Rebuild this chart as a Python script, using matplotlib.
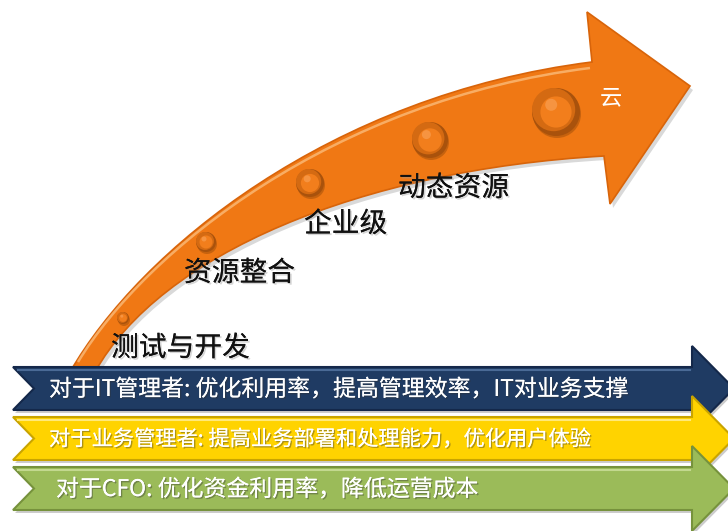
import matplotlib
matplotlib.use("Agg")
import matplotlib.pyplot as plt
from matplotlib.path import Path
from matplotlib.patches import PathPatch, Polygon, Circle
import matplotlib.patheffects as pe

plt.rcParams['font.family'] = ['Noto Sans CJK SC', 'DejaVu Sans']

# stages along the orange arrow
stage_labels = ["测试与开发", "资源整合", "企业级", "动态资源", "云"]
# benefit bands
band_texts = ["对于IT管理者: 优化利用率，提高管理效率，IT对业务支撑",
              "对于业务管理者: 提高业务部署和处理能力，优化用户体验",
              "对于CFO: 优化资金利用率，降低运营成本"]

# layout (pixel coords, y down)
label_pos = [(111, 348), (184, 273), (304, 224), (398, 188), (600, 98)]
bead_pos = [(123, 318, 6), (206, 242, 10), (310, 183, 14), (430, 140, 18), (556, 112, 24)]
band_tops = [367, 417, 467]
band_text_x = [49, 49, 56]
band_font = [16.5, 15.3, 16.5]
band_colors = ["#1F3B63", "#FFD300", "#9BBB59"]
band_edges = ["#14284A", "#C9A400", "#76923C"]
band_hi = ["#4A6A96", "#FFE97A", "#C3D88F"]
orange = "#F07814"

fig = plt.figure(figsize=(7.28, 5.31), dpi=100)
ax = fig.add_axes([0, 0, 1, 1])
ax.set_xlim(0, 728)
ax.set_ylim(531, 0)
ax.axis('off')

# curved orange arrow
verts = [(70, 372), (140, 250), (330, 95), (592, 62),
         (587, 12), (690, 86), (610, 204), (604, 156),
         (360, 170), (160, 255), (95, 372), (70, 372)]
codes = [Path.MOVETO, Path.CURVE4, Path.CURVE4, Path.CURVE4,
         Path.LINETO, Path.LINETO, Path.LINETO, Path.LINETO,
         Path.CURVE4, Path.CURVE4, Path.CURVE4, Path.CLOSEPOLY]
shadow = [(x + 3, y + 4) for x, y in verts]
ax.add_patch(PathPatch(Path(shadow, codes), fc="#000000", ec="none", alpha=0.15))
ax.add_patch(PathPatch(Path(verts, codes), fc=orange, ec="#D8640A", lw=1.2))
# light stripe near upper edge
hi = Path([(78, 362), (146, 250), (334, 100), (590, 68)],
          [Path.MOVETO, Path.CURVE4, Path.CURVE4, Path.CURVE4])
ax.add_patch(PathPatch(hi, fc="none", ec="#F9B36E", lw=1.8, alpha=0.9))

# beads
for x, y, r in bead_pos:
    ax.add_patch(Circle((x + 1, y + 2), r, fc="#7A3A05", ec="none", alpha=0.35))
    ax.add_patch(Circle((x, y), r, fc="#A9520C", ec="none"))
    ax.add_patch(Circle((x - 0.1 * r, y - 0.1 * r), r * 0.9, fc="#D46A12", ec="none"))
    ax.add_patch(Circle((x, y), r * 0.65, fc="#F27E1C", ec="none"))
    ax.add_patch(Circle((x - 0.2 * r, y - 0.3 * r), r * 0.25, fc="#F9A45A", ec="none", alpha=0.6))

# stage labels
shadow_fx = [pe.withSimplePatchShadow(offset=(1.2, -1.2), shadow_rgbFace="#999999", alpha=0.4), pe.Normal()]
for i, lab in enumerate(stage_labels):
    x, y = label_pos[i]
    if lab == "云":
        ax.text(x, y, lab, fontsize=16, color="white", ha='left', va='center', fontweight='light')
    else:
        ax.text(x, y, lab, fontsize=20, color="#111111", ha='left', va='center',
                fontweight='light', path_effects=shadow_fx)

# bands
for i, txt in enumerate(band_texts):
    top = band_tops[i]
    bot = top + 43
    mid = (top + bot) / 2
    pts = [(13, top), (692, top), (692, top - 21), (734, mid), (692, bot + 21),
           (692, bot), (13, bot), (34, mid)]
    ax.add_patch(Polygon([(x + 2, y + 3) for x, y in pts], fc="black", ec="none", alpha=0.2))
    ax.add_patch(Polygon(pts, fc=band_colors[i], ec=band_edges[i], lw=1.5))
    ax.plot([18, 690], [top + 2.5, top + 2.5], color=band_hi[i], lw=1.5)
    ax.text(band_text_x[i], mid + 1, txt, fontsize=band_font[i], color="white", ha='left', va='center',
            fontweight='light',
            path_effects=[pe.withSimplePatchShadow(offset=(1, -1), shadow_rgbFace="#333333", alpha=0.4), pe.Normal()])

fig.savefig("out.png", dpi=100)
